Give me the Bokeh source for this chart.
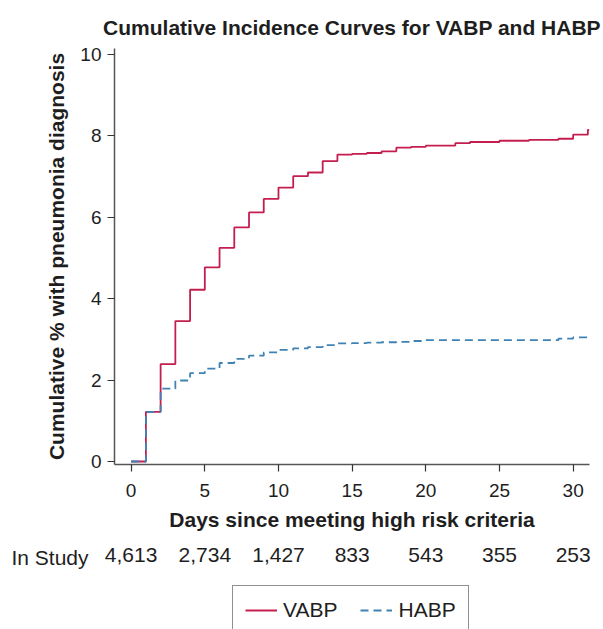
from bokeh.plotting import figure
from bokeh.layouts import column
from bokeh.models import Range1d, FixedTicker, Legend, LegendItem
from bokeh.embed import file_html
from bokeh.resources import INLINE

# ---- data ----
days = list(range(0, 32))
vabp = [0.00, 1.22, 2.39, 3.45, 4.22, 4.77, 5.25, 5.75, 6.12, 6.45,
        6.73, 7.01, 7.10, 7.38, 7.54, 7.56, 7.58, 7.62, 7.71, 7.73,
        7.76, 7.76, 7.82, 7.85, 7.85, 7.88, 7.88, 7.90, 7.90, 7.93,
        8.03, 8.15]
habp = [0.00, 1.22, 1.79, 1.99, 2.17, 2.28, 2.42, 2.52, 2.60, 2.68,
        2.74, 2.78, 2.81, 2.86, 2.90, 2.91, 2.92, 2.93, 2.94, 2.96,
        2.98, 2.98, 2.98, 2.98, 2.98, 2.98, 2.98, 2.98, 2.98, 3.02,
        3.05, 3.06]
follow_up_end = 31.1
risk_days = [0, 5, 10, 15, 20, 25, 30]
in_study = ["4,613", "2,734", "1,427", "833", "543", "355", "253"]
x_ticks = [0, 5, 10, 15, 20, 25, 30]
y_ticks = [0, 2, 4, 6, 8, 10]

FONT = "Liberation Sans"
TXT = "#1e1e1e"
RED = "#c41e4f"
BLUE = "#3f82b4"
DASH = "8 5"

W = 603
H1, H2, H3 = 538, 38, 53
LEFT, RIGHT = 114, 14
xr = Range1d(-1.13, 31.11)
xs = days + [follow_up_end]


def bare(fig):
    fig.outline_line_color = None
    fig.grid.visible = False
    fig.background_fill_color = "white"
    fig.border_fill_color = "white"


# ---- main plot ----
p = figure(width=W, height=H1, output_backend="svg", toolbar_location=None,
           x_range=xr, y_range=Range1d(-0.074, 10.147),
           min_border_left=LEFT, min_border_right=RIGHT, min_border_top=48,
           min_border_bottom=H1 - 464,
           title="Cumulative Incidence Curves for VABP and HABP")
bare(p)
p.title.text_font = FONT
p.title.text_font_size = "21px"
p.title.text_font_style = "bold"
p.title.text_color = TXT
p.title.align = "center"
p.title.standoff = 20

for ax in (p.xaxis[0], p.yaxis[0]):
    ax.axis_line_color = "#555555"
    ax.axis_line_width = 1.5
    ax.major_tick_line_color = "#333333"
    ax.major_tick_line_width = 1.2
    ax.major_tick_out = 7
    ax.major_tick_in = 0
    ax.minor_tick_line_color = None
    ax.major_label_text_font = FONT
    ax.major_label_text_font_size = "19px"
    ax.major_label_text_color = TXT
    ax.axis_label_text_font = FONT
    ax.axis_label_text_font_size = "21px"
    ax.axis_label_text_font_style = "bold"
    ax.axis_label_text_color = TXT

p.xaxis[0].ticker = FixedTicker(ticks=x_ticks)
p.yaxis[0].ticker = FixedTicker(ticks=y_ticks)
p.xaxis[0].axis_label = "Days since meeting high risk criteria"
p.yaxis[0].axis_label = "Cumulative % with pneumonia diagnosis"
p.xaxis[0].major_label_standoff = 12
p.yaxis[0].major_label_standoff = 6
p.xaxis[0].axis_label_standoff = 8
p.yaxis[0].axis_label_standoff = 9

p.step(xs, vabp + [vabp[-1]], mode="after", line_color=RED, line_width=1.8)
p.step(xs, habp + [habp[-1]], mode="after", line_color=BLUE, line_width=1.8,
       line_dash=DASH)

# ---- number-at-risk row (an axis whose labels are the counts) ----
p2 = figure(width=W, height=H2, output_backend="svg", toolbar_location=None,
            x_range=xr, y_range=Range1d(0, 1),
            min_border_left=LEFT, min_border_right=RIGHT, min_border_top=0,
            min_border_bottom=0)
bare(p2)
xa = p2.xaxis[0]
xa.ticker = FixedTicker(ticks=risk_days)
xa.major_label_overrides = {d: n for d, n in zip(risk_days, in_study)}
xa.axis_line_color = None
xa.major_tick_line_color = None
xa.minor_tick_line_color = None
xa.major_tick_out = 0
xa.major_tick_in = 0
xa.major_label_standoff = -29
xa.major_label_text_font = FONT
xa.major_label_text_font_size = "21px"
xa.major_label_text_color = TXT

ya = p2.yaxis[0]
ya.ticker = FixedTicker(ticks=[])
ya.axis_line_color = None
ya.major_tick_line_color = None
ya.minor_tick_line_color = None
ya.major_tick_out = 0
ya.major_label_standoff = 0
ya.axis_label = "In Study"
ya.axis_label_orientation = "horizontal"
ya.axis_label_standoff = 26
ya.axis_label_text_font = FONT
ya.axis_label_text_font_size = "21px"
ya.axis_label_text_font_style = "normal"
ya.axis_label_text_color = TXT

# ---- legend ----
p3 = figure(width=W, height=H3, output_backend="svg", toolbar_location=None,
            x_range=xr, y_range=Range1d(100, 200),
            min_border_left=LEFT, min_border_right=RIGHT, min_border_top=0,
            min_border_bottom=0, x_axis_type=None, y_axis_type=None)
bare(p3)
l1 = p3.step(xs, vabp + [vabp[-1]], mode="after", line_color=RED, line_width=1.8)
l2 = p3.step(xs, habp + [habp[-1]], mode="after", line_color=BLUE, line_width=1.8,
             line_dash=DASH)
legend = Legend(items=[LegendItem(label="VABP", renderers=[l1]),
                       LegendItem(label="HABP", renderers=[l2])],
                orientation="horizontal", location=(232 - LEFT, -6))
legend.label_text_font = FONT
legend.label_text_font_size = "21px"
legend.label_text_color = TXT
legend.border_line_color = "#222222"
legend.border_line_width = 1
legend.padding = 12
legend.spacing = 23
legend.glyph_width = 32
legend.glyph_height = 20
legend.label_standoff = 6
legend.label_height = 20
legend.margin = 0
legend.background_fill_alpha = 1
p3.add_layout(legend, "center")

layout = column(p, p2, p3, spacing=0)
open("out.html", "w").write(file_html(layout, INLINE))
